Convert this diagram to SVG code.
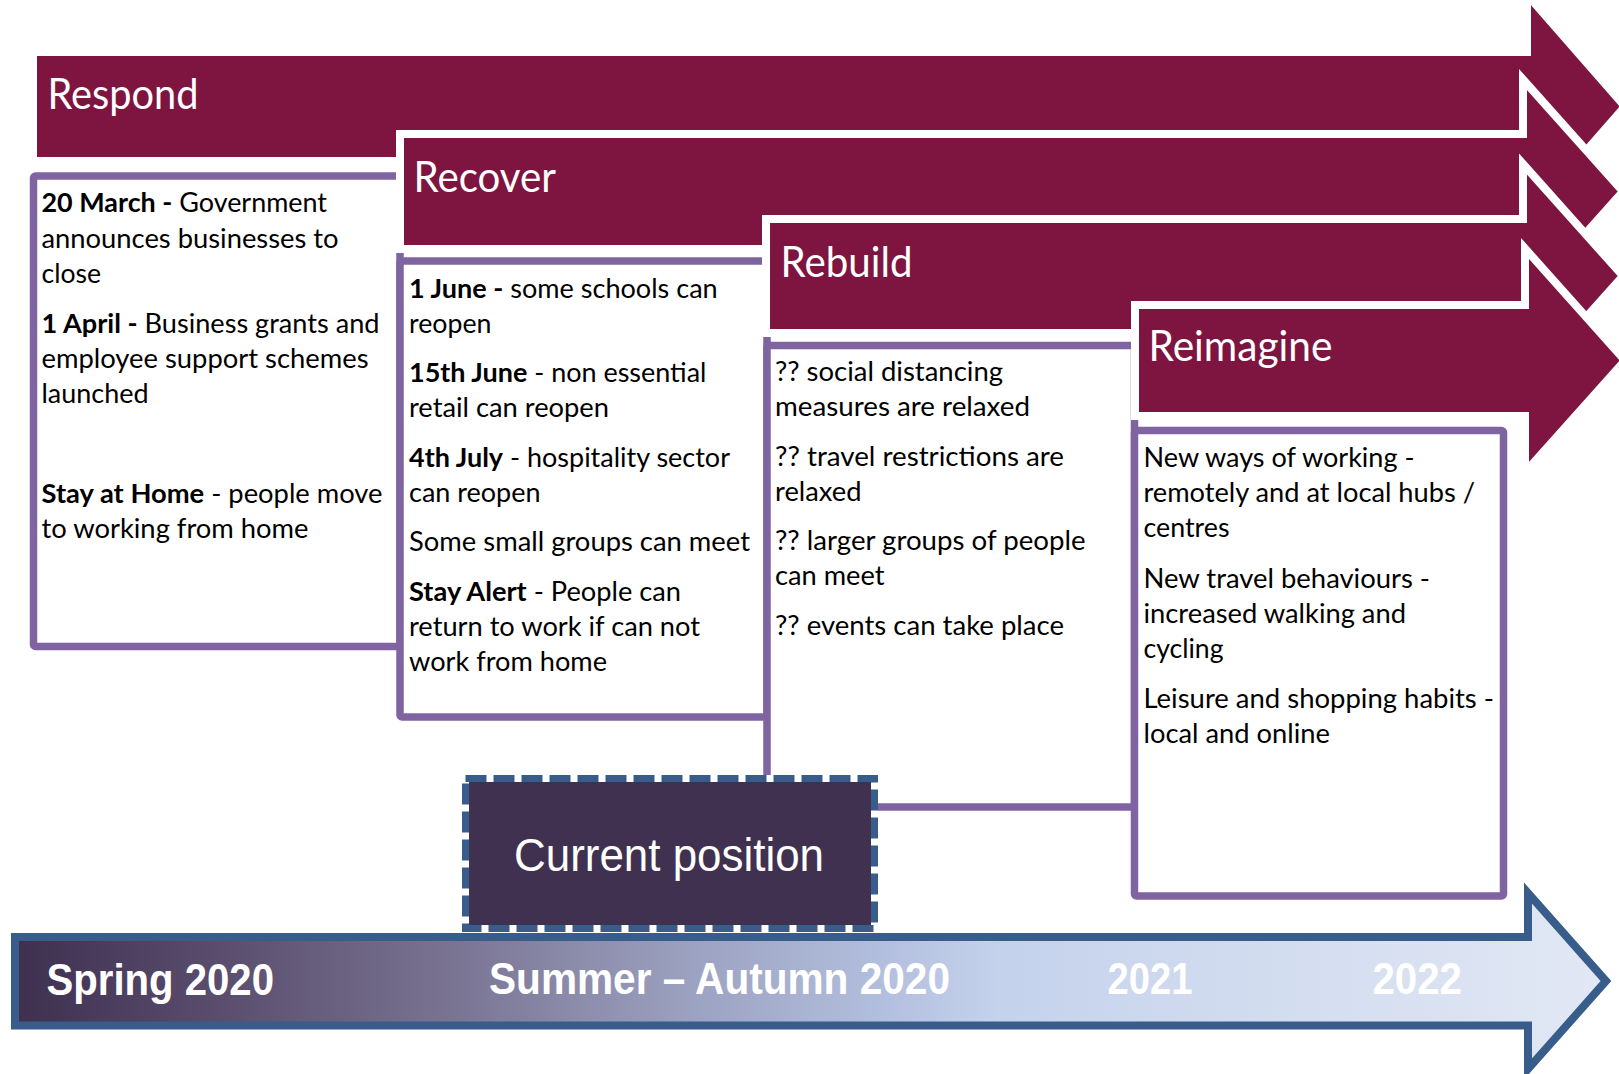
<svg xmlns="http://www.w3.org/2000/svg" width="1619" height="1074" viewBox="0 0 1619 1074">
<style>
.box{fill:#fff;stroke:#8064A2;stroke-width:7.5}
.arrow{fill:#7E1540;stroke:#fff;stroke-width:8}
.title{font-family:Lato,"Open Sans",sans-serif;font-size:42px;fill:#fff}
.body{font-family:Lato,"Open Sans",sans-serif;font-size:26px;fill:#000}
.b{font-weight:bold}
.tl{font-family:"Liberation Sans",Arial,sans-serif;font-size:45px;font-weight:bold;fill:#fff}
</style>
<defs>
<linearGradient id="tg" gradientUnits="userSpaceOnUse" x1="19" y1="0" x2="1613" y2="0">
<stop offset="0" stop-color="#3F3050"/>
<stop offset="0.113" stop-color="#574A6A"/>
<stop offset="0.277" stop-color="#7B7594"/>
<stop offset="0.427" stop-color="#9DA3C2"/>
<stop offset="0.54" stop-color="#B2BEDD"/>
<stop offset="0.615" stop-color="#C5D2EC"/>
<stop offset="0.74" stop-color="#CFDAEF"/>
<stop offset="1" stop-color="#E2E8F4"/>
</linearGradient>
</defs>
<rect width="1619" height="1074" fill="#fff"/>

<g id="respond-box">
<rect class="box" x="33.5" y="176" width="366.5" height="470.5" rx="2"/>
<text class="body" x="41.5" y="212" textLength="285.5" lengthAdjust="spacingAndGlyphs"><tspan class="b">20 March -</tspan> Government</text>
<text class="body" x="41.5" y="247.5" textLength="297" lengthAdjust="spacingAndGlyphs">announces businesses to</text>
<text class="body" x="41.5" y="283" textLength="59.5" lengthAdjust="spacingAndGlyphs">close</text>
<text class="body" x="41.5" y="332.5" textLength="338" lengthAdjust="spacingAndGlyphs"><tspan class="b">1 April -</tspan> Business grants and</text>
<text class="body" x="41.5" y="368" textLength="327" lengthAdjust="spacingAndGlyphs">employee support schemes</text>
<text class="body" x="41.5" y="403" textLength="107" lengthAdjust="spacingAndGlyphs">launched</text>
<text class="body" x="41.5" y="503" textLength="341" lengthAdjust="spacingAndGlyphs"><tspan class="b">Stay at Home</tspan> - people move</text>
<text class="body" x="41.5" y="538" textLength="267" lengthAdjust="spacingAndGlyphs">to working from home</text>
</g>

<g id="recover-box">
<rect class="box" x="400" y="261" width="367" height="456" rx="2"/>
<text class="body" x="409" y="298" textLength="308.7" lengthAdjust="spacingAndGlyphs"><tspan class="b">1 June -</tspan> some schools can</text>
<text class="body" x="409" y="333" textLength="82.5" lengthAdjust="spacingAndGlyphs">reopen</text>
<text class="body" x="409" y="382" textLength="297.5" lengthAdjust="spacingAndGlyphs"><tspan class="b">15th June</tspan> - non essential</text>
<text class="body" x="409" y="417" textLength="200" lengthAdjust="spacingAndGlyphs">retail can reopen</text>
<text class="body" x="409" y="467" textLength="321" lengthAdjust="spacingAndGlyphs"><tspan class="b">4th July</tspan> - hospitality sector</text>
<text class="body" x="409" y="502" textLength="131.5" lengthAdjust="spacingAndGlyphs">can reopen</text>
<text class="body" x="409" y="551" textLength="341" lengthAdjust="spacingAndGlyphs">Some small groups can meet</text>
<text class="body" x="409" y="601" textLength="272" lengthAdjust="spacingAndGlyphs"><tspan class="b">Stay Alert</tspan> - People can</text>
<text class="body" x="409" y="636" textLength="291" lengthAdjust="spacingAndGlyphs">return to work if can not</text>
<text class="body" x="409" y="671" textLength="198" lengthAdjust="spacingAndGlyphs">work from home</text>
</g>

<g id="rebuild-box">
<rect class="box" x="767" y="345.5" width="367.5" height="461.5" rx="2"/>
<text class="body" x="775" y="381" textLength="228" lengthAdjust="spacingAndGlyphs">?? social distancing</text>
<text class="body" x="775" y="416" textLength="255" lengthAdjust="spacingAndGlyphs">measures are relaxed</text>
<text class="body" x="775" y="466" textLength="289" lengthAdjust="spacingAndGlyphs">?? travel restrictions are</text>
<text class="body" x="775" y="501" textLength="86.5" lengthAdjust="spacingAndGlyphs">relaxed</text>
<text class="body" x="775" y="550" textLength="310.5" lengthAdjust="spacingAndGlyphs">?? larger groups of people</text>
<text class="body" x="775" y="585" textLength="109.5" lengthAdjust="spacingAndGlyphs">can meet</text>
<text class="body" x="775" y="635" textLength="289" lengthAdjust="spacingAndGlyphs">?? events can take place</text>
</g>

<g id="reimagine-box">
<rect class="box" x="1134.5" y="430.5" width="369" height="465.5" rx="2"/>
<text class="body" x="1143.5" y="467" textLength="271" lengthAdjust="spacingAndGlyphs">New ways of working -</text>
<text class="body" x="1143.5" y="502" textLength="331.5" lengthAdjust="spacingAndGlyphs">remotely and at local hubs /</text>
<text class="body" x="1143.5" y="537" textLength="86" lengthAdjust="spacingAndGlyphs">centres</text>
<text class="body" x="1143.5" y="588" textLength="286.5" lengthAdjust="spacingAndGlyphs">New travel behaviours -</text>
<text class="body" x="1143.5" y="623" textLength="262.5" lengthAdjust="spacingAndGlyphs">increased walking and</text>
<text class="body" x="1143.5" y="658" textLength="80" lengthAdjust="spacingAndGlyphs">cycling</text>
<text class="body" x="1143.5" y="707.5" textLength="350.5" lengthAdjust="spacingAndGlyphs">Leisure and shopping habits -</text>
<text class="body" x="1143.5" y="743" textLength="186.5" lengthAdjust="spacingAndGlyphs">local and online</text>
</g>

<g id="respond">
<polygon class="arrow" points="33,52 1527,52 1527,-5.5 1625,106.5 1527,218.5 1527,161 33,161"/>
<text class="title" x="47.5" y="109" textLength="151" lengthAdjust="spacingAndGlyphs">Respond</text>
</g>
<g id="recover">
<polygon class="arrow" points="400,134 1523,134 1523,79.5 1623,191.5 1523,303.5 1523,249 400,249"/>
<text class="title" x="413.5" y="192" textLength="142.5" lengthAdjust="spacingAndGlyphs">Recover</text>
</g>
<g id="rebuild">
<polygon class="arrow" points="766,219 1523,219 1523,164 1623,276 1523,388 1523,333 766,333"/>
<text class="title" x="780.5" y="277" textLength="132" lengthAdjust="spacingAndGlyphs">Rebuild</text>
</g>
<g id="reimagine">
<polygon class="arrow" points="1135,305 1525,305 1525,248.5 1625,360.5 1525,472.5 1525,416 1135,416"/>
<text class="title" x="1148.5" y="361" textLength="184" lengthAdjust="spacingAndGlyphs">Reimagine</text>
</g>

<g id="timeline">
<polygon points="15,937 1528,937 1528,893 1606,981 1528,1069 1528,1025.5 15,1025.5" fill="url(#tg)" stroke="#385D8A" stroke-width="8"/>
<text class="tl" x="46.5" y="995" textLength="227.5" lengthAdjust="spacingAndGlyphs">Spring 2020</text>
<text class="tl" x="489" y="994" textLength="461" lengthAdjust="spacingAndGlyphs">Summer – Autumn 2020</text>
<text class="tl" x="1107.5" y="994" textLength="85" lengthAdjust="spacingAndGlyphs">2021</text>
<text class="tl" x="1372.5" y="994" textLength="89.5" lengthAdjust="spacingAndGlyphs">2022</text>
</g>

<g id="current-position">
<rect x="465.5" y="778.5" width="409" height="150" fill="#403151" stroke="#fff" stroke-width="7"/>
<rect x="465.5" y="778.5" width="409" height="150" fill="none" stroke="#385D8A" stroke-width="7" stroke-dasharray="21 7"/>
<text x="514" y="871" textLength="310" lengthAdjust="spacingAndGlyphs" font-family="'Liberation Sans',Arial,sans-serif" font-size="46" fill="#fff">Current position</text>
</g>
</svg>
